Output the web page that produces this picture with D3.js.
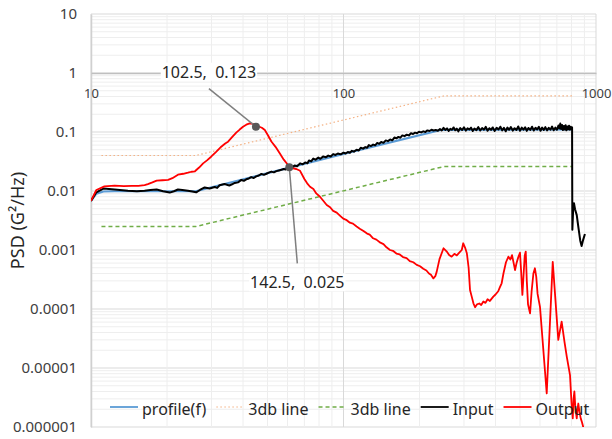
<!DOCTYPE html>
<html>
<head>
<meta charset="utf-8">
<script src="https://cdn.jsdelivr.net/npm/d3@7"></script>
<style>
body { margin: 0; background: #fff; }
text { font-family: "Noto Sans", sans-serif; }
</style>
</head>
<body>
<svg width="612" height="439"></svg>
<script>
// frequency (Hz), PSD (G^2/Hz)
var profileData = [[10,0.0068],[10.5,0.0090],[11.2,0.0098],[12.4,0.0099],[26,0.0099],[100,0.0425],[245,0.109],[805,0.111]];

var upperLine = [[11,0.04],[26,0.04],[250,0.41],[805,0.41]];
var lowerLine = [[11,0.0025],[26,0.0025],[250,0.026],[805,0.026]];

var inputData = [[10,0.0068],[10.5,0.0095],[11.2,0.0110],[12.4,0.0106],[14.0,0.0101],[15.2,0.0099],[16.3,0.0101],
  [17.2,0.0104],[18.2,0.0106],[19.3,0.0099],[20.5,0.0094],[21.3,0.0099],[22.1,0.0106],[23.0,0.0104],[24.2,0.0101],
  [25.2,0.0098],[26.1,0.0095],[27.0,0.0104],[28.2,0.0115],[29.5,0.0110],[30.9,0.0117],[31.6,0.0113],[32.3,0.0125],
  [33.8,0.0131],[35.3,0.0124],[36.2,0.0130],[37.1,0.0137],[38.2,0.0140],[39.4,0.0154],[40.3,0.0149],[41.2,0.0158],
  [42.2,0.0163],[43.1,0.0172],[44.1,0.0166],[45.1,0.0177],[46.2,0.0183],[47.3,0.0195],[48.4,0.0188],[49.5,0.0196],
  [50.6,0.0205],[51.8,0.0213],[53.0,0.0207],[54.2,0.0217],[55.5,0.0223],[56.8,0.0229],[58.0,0.0236],[59.0,0.0232],
  [60.1,0.0245],[61.2,0.0258],[62.5,0.0249],[64.0,0.0270],[65.5,0.0262],[67.3,0.0294],[69,0.0283],[70.5,0.0305],
  [72,0.0296],[73.0,0.0330],[74.5,0.0318],[75.9,0.0355],[77.5,0.0340],[79.5,0.0368],[81,0.0352],[83.2,0.0386],
  [85,0.0372],[87,0.0398],[89,0.0384],[91,0.0422],[93,0.0408],[95,0.0432],[97.5,0.0418],[100,0.0446],[102,0.0432],
  [104,0.0458],[106,0.0445],[108,0.0480],[110,0.0465],[112.7,0.0500],[115,0.0486],[117,0.0540],[119.5,0.0522],
  [122,0.0555],[124,0.0540],[126,0.0600],[128.5,0.0578],[131,0.0612],[133.5,0.0595],[136,0.0652],[138.5,0.0630],
  [141,0.0676],[144,0.0655],[147,0.0720],[150,0.0700],[153,0.0745],[156,0.0722],[159,0.0805],[162,0.0782],
  [165,0.0825],[168,0.0800],[171,0.0875],[174.5,0.0850],[178,0.0900],[181.5,0.0875],[185,0.0950],[188.5,0.0925],
  [192,0.0975],[195.5,0.0950],[199,0.1010],[203,0.0985],[207,0.1025],[211,0.0998],[215,0.1065],[219,0.1040],
  [223,0.1090],[227.5,0.1060],[232,0.1080],[236.5,0.1050],[241,0.1120],[245,0.1060],[249,0.1175],[253,0.1085],
  [257,0.1150],[261,0.1040],[265,0.1130],[269,0.1090],[273,0.1195],[277,0.1070],[281,0.1140],[285,0.1025],
  [290,0.1165],[295,0.1080],[300,0.1200],[305,0.1055],[310,0.1155],[315,0.1100],[320,0.1185],[325,0.1040],
  [330,0.1145],[336,0.1075],[342,0.1210],[348,0.1060],[354,0.1170],[360,0.1095],[366,0.1220],[372,0.1050],
  [378,0.1160],[384,0.1085],[390,0.1195],[397,0.1040],[404,0.1180],[411,0.1100],[418,0.1230],[425,0.1065],
  [432,0.1175],[439,0.1030],[446,0.1190],[453,0.1090],[460,0.1215],[468,0.1055],[476,0.1160],[484,0.1080],
  [492,0.1240],[500,0.1050],[508,0.1185],[516,0.1095],[524,0.1205],[532,0.1045],[540,0.1170],[549,0.1085],
  [558,0.1230],[567,0.1060],[576,0.1180],[585,0.1100],[594,0.1225],[603,0.1050],[612,0.1190],[621,0.1080],
  [630,0.1210],[640,0.1065],[650,0.1175],[660,0.1095],[670,0.1235],[680,0.1070],[690,0.1185],[700,0.1090],
  [710,0.1290],[716,0.1150],[722,0.1390],[728,0.1120],[734,0.1310],[740,0.1080],[746,0.1260],[752,0.1100],
  [758,0.1300],[764,0.1070],[770,0.1240],[776,0.1110],[782,0.1280],[788,0.1090],[794,0.1230],[799,0.1120],
  [804,0.1200],[806,0.0022],[812,0.0048],[818,0.0062],[826,0.0049],[839,0.0039],[852,0.0024],[866,0.00145],
  [877,0.00117],[890,0.00150],[904,0.00187]];

var outputData = [[10,0.0068],[10.5,0.0104],[11.3,0.0120],[12.4,0.0123],[13.5,0.0121],[14.5,0.0122],[15.4,0.0122],
  [16.3,0.0126],[16.8,0.0131],[17.5,0.0140],[18.2,0.0150],[19.2,0.0152],[20.2,0.0154],[21.0,0.0165],[22.1,0.0189],
  [23.2,0.0196],[24.2,0.0204],[25.0,0.0212],[25.8,0.0216],[26.8,0.0250],[27.8,0.0294],[28.8,0.0330],[29.9,0.0381],
  [31.3,0.0460],[32.8,0.0563],[34.0,0.0640],[34.9,0.0686],[36.2,0.0820],[37.6,0.0975],[38.8,0.1100],[40.0,0.1230],
  [41.2,0.1330],[42.5,0.1400],[43.8,0.1370],[45.0,0.1260],[46.2,0.1240],[47.5,0.1180],[48.8,0.1080],[50.2,0.0880],
  [51.8,0.0690],[53.8,0.0560],[55.9,0.0435],[58.0,0.0340],[60.3,0.0276],[61.5,0.0252],[63.1,0.0243],[65.0,0.0236],
  [67.3,0.0220],[70.0,0.0160],[71.8,0.0135],[73.7,0.0118],[76.0,0.0108],[78.0,0.0091],[80.7,0.0080],[83.0,0.0069],
  [85.8,0.0058],[88.5,0.0053],[91.0,0.0046],[94.0,0.0043],[97.0,0.0038],[99.8,0.0034],[103,0.0032],[106,0.0029],
  [109,0.0028],[112.7,0.0025],[116,0.0023],[120,0.0021],[124,0.0019],[127,0.00182],[131,0.00158],[135,0.00150],
  [140,0.00133],[144,0.00126],[148,0.00111],[152.8,0.00100],[157,0.00097],[162,0.00087],[167,0.00084],
  [172,0.00076],[177.8,0.00073],[183,0.00065],[189,0.00062],[195,0.00056],[201,0.00053],[207,0.00048],
  [213,0.00045],[218,0.00040],[222,0.00038],[227,0.00033],[231,0.00036],[234,0.00043],[240,0.00070],[249,0.00107],
  [256,0.00095],[262,0.00082],[268,0.00077],[275,0.00086],[281,0.00081],[288,0.00091],[294,0.00100],[298,0.00130],
  [303,0.00110],[308,0.00088],[313,0.00050],[317,0.00021],[322,0.000162],[327,0.000125],[332,0.000107],
  [338,0.000120],[345,0.000124],[351,0.000117],[358,0.000134],[365,0.000127],[372,0.000146],[380,0.000137],
  [392,0.000162],[400,0.000176],[410,0.000200],[416,0.000232],[423,0.000273],[430,0.00040],[440,0.00062],
  [450,0.00077],[458,0.00069],[465,0.00082],[472,0.00060],[478,0.000458],[485,0.00061],[492,0.00075],[500,0.00090],
  [505,0.00045],[511,0.000173],[517,0.00040],[522,0.00080],[527,0.00094],[532,0.00030],[538,0.00012],
  [548,0.0000845],[556,0.00020],[565,0.00040],[573,0.00049],[580,0.00035],[587,0.00018],[600,0.000109],
  [638,0.0000037],[674,0.00063],[709,0.000030],[731,0.0000609],[750,0.000028],[766,0.0000156],[789,0.0000076],
  [800,0.0000025],[809,0.0000014],[815,0.0000030],[821,0.0000040],[828,0.0000022],[839,0.0000014],
  [845,0.0000020],[851,0.0000025],[860,0.0000018],[870,0.0000014],[880,0.0000012],[890,0.0000010],[900,0.0000008]];

var seriesNames = ["profile(f)", "3db line", "3db line", "Input", "Output"];
var yTickValues = [10, 1, 0.1, 0.01, 0.001, 0.0001, 0.00001, 0.000001];
var xTickValues = [10, 100, 1000];
var yTickLabels = ["10", "1", "0.1", "0.01", "0.001", "0.0001", "0.00001", "0.000001"];

// callouts: point on chart and its label text
var calloutPoints = [[45.0, 0.123], [61.0, 0.0252]];
var calloutTexts = ["102.5,  0.123", "142.5,  0.025"];

var svg = d3.select("svg"),
    W = +svg.attr("width"),
    H = +svg.attr("height"),
    margin = {top: 14, right: 16, bottom: 12, left: 91};

var x = d3.scaleLog().domain([10, 1000]).range([margin.left, W - margin.right]);
var y = d3.scaleLog().domain([0.000001, 10]).range([H - margin.bottom, margin.top]);

svg.append("defs").append("clipPath").attr("id", "plot")
  .append("rect")
    .attr("x", margin.left).attr("y", margin.top)
    .attr("width", W - margin.left - margin.right)
    .attr("height", H - margin.top - margin.bottom);

function isMajor(v) { return Math.abs(Math.log10(v) - Math.round(Math.log10(v))) < 1e-6; }

// gridlines
var grid = svg.append("g");
grid.selectAll(".hy").data(y.ticks()).enter().append("line")
    .attr("x1", margin.left).attr("x2", W - margin.right)
    .attr("y1", function(d) { return y(d); }).attr("y2", function(d) { return y(d); })
    .attr("stroke", function(d) { return isMajor(d) ? "#d9d9d9" : "#eeeeee"; })
    .attr("stroke-width", 1);
grid.selectAll(".vx").data(x.ticks()).enter().append("line")
    .attr("y1", margin.top).attr("y2", H - margin.bottom)
    .attr("x1", function(d) { return x(d); }).attr("x2", function(d) { return x(d); })
    .attr("stroke", function(d) { return isMajor(d) ? "#d9d9d9" : "#eeeeee"; })
    .attr("stroke-width", 1);

// y axis (left)
var yAxis = svg.append("g")
    .attr("transform", "translate(" + margin.left + ",0)")
    .call(d3.axisLeft(y).tickValues(yTickValues).tickSize(0).tickPadding(14)
      .tickFormat(function(d, i) { return yTickLabels[i]; }));
yAxis.select(".domain").attr("stroke", "#d0d0d0").attr("stroke-width", 1.5);
yAxis.selectAll("text").attr("font-size", 15).attr("fill", "#404040")
    .attr("font-family", "Noto Sans, sans-serif");

// x axis crosses at y = 1
var xAxis = svg.append("g")
    .attr("transform", "translate(0," + y(1) + ")")
    .call(d3.axisBottom(x).tickValues(xTickValues).tickSize(0).tickPadding(16)
      .tickFormat(d3.format("d")));
xAxis.select(".domain").attr("stroke", "#bfbfbf").attr("stroke-width", 1.5);
xAxis.selectAll("text").attr("font-size", 13).attr("fill", "#404040")
    .attr("font-family", "Noto Sans, sans-serif");

// axis title
svg.append("text")
    .attr("transform", "translate(24," + (margin.top + H - margin.bottom) / 2 + ") rotate(-90)")
    .attr("text-anchor", "middle")
    .attr("font-size", 18)
    .attr("fill", "#262626")
    .text("PSD (G²/Hz)");

var line = d3.line()
    .x(function(d) { return x(d[0]); })
    .y(function(d) { return y(d[1]); });

var styles = [
  {color: "#5b9bd5", width: 2.2, dash: null},
  {color: "#f4b183", width: 1.2, dash: "1.5,2.5"},
  {color: "#70ad47", width: 1.5, dash: "4,3"},
  {color: "#000000", width: 2, dash: null},
  {color: "#ff0000", width: 1.8, dash: null}
];
var allSeries = [profileData, upperLine, lowerLine, inputData, outputData];

var plot = svg.append("g").attr("clip-path", "url(#plot)");
plot.selectAll(".series").data(allSeries).enter().append("path")
    .attr("d", line)
    .attr("fill", "none")
    .attr("stroke", function(d, i) { return styles[i].color; })
    .attr("stroke-width", function(d, i) { return styles[i].width; })
    .attr("stroke-dasharray", function(d, i) { return styles[i].dash; })
    .attr("stroke-linejoin", "round");

// callouts
var labelOffsets = [{lx: -47, ly: -38, tx: -47, ty: -49}, {lx: 8, ly: 96, tx: 8, ty: 121}];
var callouts = svg.append("g");
calloutPoints.forEach(function(p, i) {
  var px = x(p[0]), py = y(p[1]), o = labelOffsets[i];
  callouts.append("line")
      .attr("x1", px).attr("y1", py)
      .attr("x2", px + o.lx).attr("y2", py + o.ly)
      .attr("stroke", "#7f7f7f").attr("stroke-width", 1.5);
  var t = callouts.append("text")
      .attr("x", px + o.tx).attr("y", py + o.ty)
      .attr("text-anchor", "middle")
      .attr("font-size", 16)
      .attr("fill", "#262626")
      .attr("xml:space", "preserve")
      .style("white-space", "pre")
      .text(calloutTexts[i]);
  var bb = t.node().getBBox();
  callouts.insert("rect", function() { return t.node(); })
      .attr("x", bb.x - 1).attr("y", bb.y + 2)
      .attr("width", bb.width + 2).attr("height", bb.height - 4)
      .attr("fill", "#fff");
  callouts.append("circle")
      .attr("cx", px).attr("cy", py).attr("r", 4)
      .attr("fill", "#595959");
});

// legend
var legend = svg.append("g").attr("transform", "translate(110,407)");
var lx = 0;
seriesNames.forEach(function(name, i) {
  var s = styles[i];
  legend.append("line")
      .attr("x1", lx).attr("x2", lx + 28).attr("y1", 0).attr("y2", 0)
      .attr("stroke", s.color)
      .attr("stroke-width", i == 1 ? 1.2 : (i == 2 ? 1.5 : 1.8))
      .attr("stroke-dasharray", s.dash);
  var t = legend.append("text")
      .attr("x", lx + 32).attr("y", 8)
      .attr("font-size", 16)
      .attr("fill", "#262626")
      .text(name);
  lx += 32 + t.node().getComputedTextLength() + 10;
});
</script>
</body>
</html>
